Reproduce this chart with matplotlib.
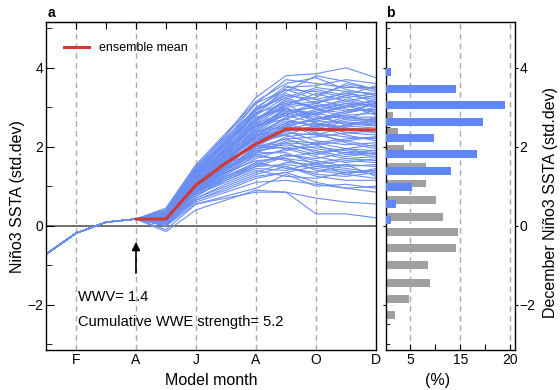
import matplotlib.pyplot as plt

plt.rcParams['font.family'] = ['Liberation Sans', 'DejaVu Sans']

months = list(range(1, 13))
labelled_months = [2, 4, 6, 8, 10, 12]
month_labels = ['F', 'A', 'J', 'A', 'O', 'D']

# Jan..Apr, same for every member
start_values = [-0.72, -0.19, 0.09, 0.17]

# May..Dec for each ensemble member
members = [
    [0.35, 1.45, 2.30, 3.25, 3.80, 3.85, 4.00, 3.75],
    [0.30, 1.40, 2.20, 3.10, 3.70, 3.60, 3.50, 3.50],
    [0.25, 1.30, 2.10, 2.90, 3.40, 3.80, 3.65, 3.45],
    [0.40, 1.50, 2.25, 2.95, 3.55, 3.30, 3.55, 3.40],
    [0.20, 1.20, 1.95, 2.70, 3.20, 3.45, 3.30, 3.55],
    [0.30, 1.35, 2.05, 2.85, 3.35, 3.10, 3.40, 3.35],
    [0.15, 1.10, 1.80, 2.60, 3.10, 3.25, 3.60, 3.45],
    [0.35, 1.40, 2.15, 3.00, 3.45, 3.20, 3.00, 3.10],
    [0.25, 1.25, 1.90, 2.55, 3.05, 3.15, 3.25, 3.05],
    [0.10, 1.05, 1.70, 2.40, 2.90, 3.00, 3.15, 3.00],
    [0.30, 1.20, 2.00, 2.75, 2.95, 2.80, 3.05, 3.15],
    [0.20, 1.15, 1.85, 2.50, 2.80, 3.05, 2.90, 2.95],
    [0.40, 1.45, 2.20, 2.80, 3.25, 2.95, 2.85, 3.10],
    [0.05, 0.95, 1.60, 2.30, 2.75, 2.90, 3.10, 3.05],
    [0.25, 1.10, 1.75, 2.45, 3.00, 3.10, 2.95, 2.90],
    [0.15, 1.00, 1.65, 2.20, 2.60, 2.85, 3.00, 3.20],
    [0.30, 1.30, 1.95, 2.65, 3.15, 3.00, 3.20, 3.00],
    [0.20, 1.05, 1.70, 2.35, 2.85, 2.70, 2.90, 3.10],
    [0.25, 1.15, 1.80, 2.40, 2.90, 2.75, 2.60, 2.65],
    [0.10, 0.95, 1.55, 2.10, 2.55, 2.70, 2.80, 2.60],
    [0.35, 1.25, 1.90, 2.55, 2.70, 2.50, 2.70, 2.70],
    [0.15, 1.00, 1.60, 2.15, 2.45, 2.60, 2.50, 2.55],
    [0.20, 1.10, 1.75, 2.30, 2.65, 2.55, 2.75, 2.65],
    [0.30, 1.20, 1.85, 2.50, 2.95, 2.80, 2.55, 2.60],
    [0.05, 0.90, 1.45, 2.00, 2.40, 2.45, 2.65, 2.70],
    [0.25, 1.05, 1.65, 2.25, 2.60, 2.65, 2.60, 2.55],
    [0.20, 1.10, 1.70, 2.20, 2.50, 2.40, 2.55, 2.65],
    [0.15, 1.00, 1.55, 2.05, 2.35, 2.30, 2.15, 2.25],
    [0.30, 1.15, 1.75, 2.25, 2.60, 2.35, 2.25, 2.20],
    [0.10, 0.90, 1.40, 1.95, 2.20, 2.25, 2.35, 2.30],
    [0.25, 1.05, 1.60, 2.10, 2.45, 2.50, 2.30, 2.15],
    [0.00, 0.85, 1.35, 1.85, 2.15, 2.10, 2.20, 2.25],
    [0.20, 0.95, 1.45, 1.95, 2.05, 1.90, 1.75, 1.85],
    [0.10, 0.85, 1.30, 1.70, 1.95, 2.00, 1.90, 1.80],
    [0.30, 1.10, 1.60, 2.00, 2.20, 1.95, 1.85, 1.75],
    [0.15, 0.80, 1.25, 1.60, 1.80, 1.70, 1.85, 1.90],
    [0.25, 1.00, 1.50, 1.85, 2.10, 2.05, 1.80, 1.85],
    [0.05, 0.75, 1.15, 1.50, 1.75, 1.85, 1.95, 1.80],
    [0.20, 0.90, 1.35, 1.75, 1.70, 1.60, 1.70, 1.75],
    [0.35, 1.05, 1.55, 1.90, 2.00, 1.80, 1.95, 1.90],
    [0.15, 0.85, 1.20, 1.50, 1.55, 1.45, 1.35, 1.40],
    [0.10, 0.70, 1.05, 1.35, 1.60, 1.55, 1.45, 1.35],
    [0.25, 0.95, 1.35, 1.65, 1.70, 1.40, 1.30, 1.45],
    [0.00, 0.65, 0.95, 1.25, 1.35, 1.50, 1.40, 1.30],
    [0.20, 0.80, 1.10, 1.40, 1.25, 1.20, 1.35, 1.40],
    [0.30, 0.90, 1.25, 1.55, 1.50, 1.30, 1.25, 1.35],
    [0.05, 0.60, 0.85, 1.10, 1.15, 1.05, 0.95, 1.00],
    [-0.10, 0.55, 0.75, 0.95, 1.30, 1.00, 1.05, 0.95],
    [0.00, 0.55, 0.70, 0.85, 0.85, 0.70, 0.60, 0.55],
    [-0.15, 0.40, 0.65, 0.90, 0.85, 0.30, 0.30, 0.20],
    [0.45, 1.55, 2.35, 3.15, 3.60, 3.75, 3.45, 3.30],
    [0.30, 1.30, 2.05, 2.80, 3.50, 3.55, 3.70, 3.60],
    [0.20, 1.25, 2.00, 2.95, 3.30, 3.20, 3.35, 3.25],
    [0.35, 1.40, 2.10, 2.70, 3.05, 3.35, 3.15, 3.30],
    [0.10, 1.10, 1.85, 2.65, 3.20, 2.95, 3.10, 2.85],
    [0.25, 1.20, 1.90, 2.60, 2.85, 3.10, 3.30, 3.20],
    [0.15, 1.15, 1.80, 2.45, 2.95, 2.85, 2.70, 2.95],
    [0.40, 1.35, 2.10, 2.85, 3.10, 2.65, 2.80, 2.85],
    [0.05, 1.00, 1.65, 2.35, 2.70, 2.95, 2.75, 2.75],
    [0.30, 1.25, 1.95, 2.70, 3.00, 2.60, 2.45, 2.50],
    [0.20, 1.05, 1.70, 2.25, 2.75, 2.85, 3.05, 2.80],
    [0.15, 0.95, 1.50, 2.15, 2.55, 2.30, 2.50, 2.75],
    [0.25, 1.15, 1.80, 2.40, 2.50, 2.70, 2.85, 3.00],
    [0.35, 1.30, 1.95, 2.55, 2.80, 2.60, 2.35, 2.40],
    [0.10, 0.90, 1.50, 2.10, 2.30, 2.55, 2.45, 2.35],
    [0.20, 1.05, 1.65, 2.30, 2.40, 2.15, 2.05, 2.10],
    [0.05, 0.85, 1.40, 1.90, 2.25, 2.35, 2.10, 1.95],
    [0.30, 1.10, 1.70, 2.20, 2.30, 2.05, 2.15, 2.00],
    [0.15, 0.95, 1.45, 2.00, 2.10, 1.85, 1.70, 1.65],
    [0.25, 1.00, 1.55, 2.05, 1.95, 1.75, 1.60, 1.70],
    [0.10, 0.80, 1.30, 1.80, 1.90, 2.10, 1.95, 2.05],
    [0.20, 0.90, 1.40, 1.85, 1.85, 1.55, 1.65, 1.60],
    [0.35, 1.00, 1.45, 1.80, 1.65, 1.50, 1.55, 1.50],
    [0.00, 0.75, 1.20, 1.55, 1.80, 1.65, 1.50, 1.55],
    [0.15, 0.85, 1.25, 1.60, 1.45, 1.35, 1.55, 1.25],
    [0.25, 0.85, 1.15, 1.45, 1.40, 1.60, 1.30, 1.20],
    [0.05, 0.70, 1.00, 1.30, 1.50, 1.25, 1.15, 1.15],
    [0.10, 0.65, 0.90, 1.20, 1.35, 1.10, 0.95, 0.85],
    [0.40, 1.50, 2.30, 3.10, 3.45, 3.40, 3.25, 3.35],
    [0.30, 1.35, 2.15, 2.95, 3.25, 3.50, 3.40, 3.10],
]

mean_months = [4, 5, 6, 7, 8, 9, 10, 11, 12]
ens_mean = [0.17, 0.17, 1.03, 1.59, 2.07, 2.45, 2.44, 2.43, 2.43]

# December distribution (%)
gray_y = [-2.26, -1.85, -1.44, -1.00, -0.57, -0.17, 0.23, 0.65, 1.07, 1.50,
          1.95, 2.37, 2.78, 3.20, 3.62]
gray_pct = [1.9, 4.7, 8.9, 8.5, 14.1, 14.5, 11.5, 10.1, 8.1, 8.1,
            3.7, 2.5, 1.5, 0.4, 0.3]
blue_y = [0.14, 0.55, 0.99, 1.39, 1.82, 2.23, 2.63, 3.06, 3.46, 3.90]
blue_pct = [1.1, 2.1, 5.4, 13.1, 18.4, 9.7, 19.5, 23.9, 14.1, 1.1]

pct_ticks = [5, 10, 15, 20, 25]
pct_labels = ['5', '', '15', '', '20']

blue = '#6a8df2'
bar_blue = '#5f87f5'
grey = '#a0a0a0'
red = '#d03a32'
dash = '#aaaaaa'

fig = plt.figure(figsize=(5.6, 3.9), dpi=100)
ax = fig.add_axes([0.0821, 0.1013, 0.5893, 0.8423])
bx = fig.add_axes([0.6884, 0.1013, 0.2312, 0.8423])

# ---- panel a
for m in labelled_months[:-1]:
    ax.axvline(m, color=dash, lw=1, ls=(0, (4, 3)), zorder=0)
ax.axhline(0, color='#555555', lw=1.2, zorder=1)

for m in members:
    ax.plot(months, start_values + m, color=blue, lw=0.8, zorder=2)
ax.plot(mean_months, ens_mean, color=red, lw=2.2, zorder=3,
        label='ensemble mean')

ax.set_xlim(1, 12)
ax.set_ylim(-3.16, 5.16)
ax.set_xticks(labelled_months)
ax.set_xticklabels(month_labels)
ax.set_yticks([-2, 0, 2, 4])
ax.set_yticks([-3, -1, 1, 3, 5], minor=True)
ax.tick_params(axis='x', direction='in', length=0, pad=1.5, labelsize=10)
ax.tick_params(axis='y', which='major', direction='in', length=6, pad=2,
               labelsize=10)
ax.tick_params(axis='y', which='minor', direction='in', length=4)
top = ax.secondary_xaxis('top')
top.set_xticks(months[1:-1])
top.set_xticklabels([])
top.tick_params(direction='in', length=5)

ax.set_xlabel('Model month', fontsize=11.5)
ax.xaxis.set_label_coords(0.5, -0.068)
ax.set_ylabel('Niño3 SSTA (std.dev)', fontsize=11.5)
ax.yaxis.set_label_coords(-0.063, 0.47)

ax.legend(loc='center left', bbox_to_anchor=(0.055, 0.921), frameon=False,
          fontsize=9, handlelength=2.0, handletextpad=0.8, borderpad=0,
          borderaxespad=0)

ax.annotate('', xy=(4, -0.34), xytext=(4, -1.27),
            arrowprops=dict(arrowstyle='-|>', color='black', lw=1.2,
                            mutation_scale=12))
ax.text(2.07, -1.8, 'WWV= 1.4', fontsize=10.5, va='center')
ax.text(2.07, -2.44, 'Cumulative WWE strength= 5.2', fontsize=10.5,
        va='center')

# ---- panel b
for p in [5, 15, 25]:
    bx.axvline(p, color=dash, lw=1, ls=(0, (4, 3)), zorder=0)
bx.barh(gray_y, gray_pct, height=0.2, color=grey, zorder=2)
bx.barh(blue_y, blue_pct, height=0.2, color=bar_blue, zorder=3)

bx.set_xlim(0, 26)
bx.set_ylim(-3.16, 5.16)
bx.set_xticks(pct_ticks)
bx.set_xticklabels(pct_labels)
bx.tick_params(axis='x', direction='in', length=4, pad=1.5, labelsize=10)
bx.set_yticks([-2, 0, 2, 4])
bx.set_yticks([-3, -2.5, -1.5, -1, -0.5, 0.5, 1, 1.5, 2.5, 3, 3.5, 4.5, 5],
              minor=True)
bx.yaxis.tick_right()
bx.tick_params(axis='y', which='major', direction='out', length=2.5, pad=0.5,
               labelsize=10, left=True)
bx.tick_params(axis='y', which='minor', direction='in', length=3,
               left=True, right=False)
bx.set_xlabel('(%)', fontsize=11.5)
bx.xaxis.set_label_coords(0.4, -0.068)
bx.yaxis.set_label_position('right')
bx.set_ylabel('December Niño3 SSTA (std.dev)', fontsize=11.5)
bx.yaxis.set_label_coords(1.215, 0.45)

for a in (ax, bx):
    for s in a.spines.values():
        s.set_linewidth(1.0)

fig.text(0.091, 0.967, 'a', fontsize=10, fontweight='bold', ha='center',
         va='center')
fig.text(0.689, 0.967, 'b', fontsize=10, fontweight='bold', ha='left',
         va='center')

fig.savefig('out.png', dpi=100)
